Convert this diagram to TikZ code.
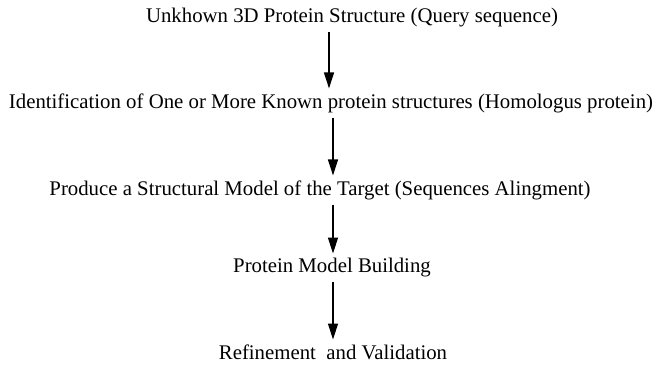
\documentclass[tikz,border=0pt]{standalone}
\usepackage{fontspec}
\setmainfont{Liberation Serif}
\usetikzlibrary{arrows.meta}
\tikzset{
    font = \fontsize{20.8}{24}\selectfont,
    every node/.style = {
        inner sep = 0pt,
        outer sep = 0pt
    },
    stage/.style = {
        anchor = center
    },
    flow/.style = {
        -{Triangle[length=16pt, width=10pt]},
        line width = 1.3pt,
        shorten < = 5pt,
        shorten > = 5pt
    }
}
\begin{document}
\begin{tikzpicture}[x=1pt, y=1pt]
    \useasboundingbox (0,0) rectangle (661,-372);
    \node (query)  at (352,-18)  [stage]{Unkhown 3D Protein Structure (Query sequence)};
    \node (homolog) at (331,-103) [stage]{Identification of One or More Known protein structures (Homologus protein)};
    \node (align)  at (320,-190) [stage]{Produce a Structural Model of the Target (Sequences Alingment)};
    \node (build)  at (332,-268) [stage]{Protein Model Building};
    \node (refine) at (333,-352) [stage]{Refinement\ \ and Validation};
    % arrows down the pipeline
    \draw[flow] (query.south -| 329,0)  -- (homolog.north -| 329,0);
    \draw[flow] (homolog.south -| 333,0) -- (align.north -| 333,0);
    \draw[flow] (align.south -| 333,0)  -- (build.north -| 333,0);
    \draw[flow] (build.south -| 333,0)  -- (refine.north -| 333,0);
\end{tikzpicture}
\end{document}
